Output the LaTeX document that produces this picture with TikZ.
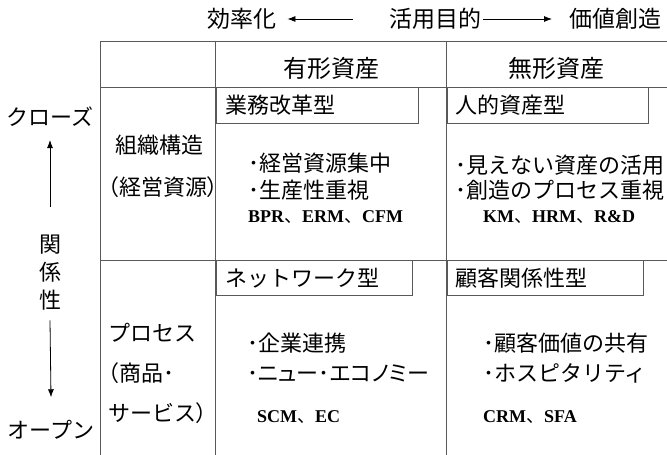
\documentclass[tikz,border=0pt]{standalone}
\usepackage{fontspec}
\setmainfont{Noto Sans CJK JP}
\newfontfamily\jpp{Noto Sans CJK JP}[RawFeature=+palt]
\newfontfamily\tnr{Liberation Serif}
\usetikzlibrary{arrows.meta}
\newcommand{\ab}[1]{{\tnr\bfseries #1}}
\newcommand{\lp}{{\jpp （}}
\newcommand{\rp}{{\jpp ）}}
\begin{document}
\begin{tikzpicture}[x=1pt,y=-1pt,
  jp/.style={inner sep=0pt, font=\fontsize{22}{26}\selectfont},
  top/.style={inner sep=0pt, font=\fontsize{23}{27}\selectfont},
  hd/.style={inner sep=0pt, font=\fontsize{24}{28}\selectfont},
  lat/.style={inner sep=0pt, font=\fontsize{18}{22}\selectfont},
  gridline/.style={draw=black!65, line width=0.9pt},
  subbox/.style={draw=black!65, line width=0.9pt, inner sep=0pt, anchor=north west},
  arr/.style={line width=0.8pt, -{Latex[length=8pt,width=6pt]}}]
\useasboundingbox (0,0) rectangle (667,455);
\clip (0,0) rectangle (667,455);
\fill[white] (0,0) rectangle (667,455);
% table grid
\draw[gridline] (100.7,41) -- (680,41);
\draw[gridline] (100.7,87.3) -- (680,87.3);
\draw[gridline] (100.7,260) -- (680,260);
\draw[gridline] (100.7,41) -- (100.7,470);
\draw[gridline] (215.7,41) -- (215.7,470);
\draw[gridline] (446.7,41) -- (446.7,470);
% sub boxes
\node[subbox, minimum width=202.6pt, minimum height=35.4pt] (b1) at (215.7,87.3) {};
\node[subbox, minimum width=201.6pt, minimum height=35.4pt] (b2) at (446.7,87.3) {};
\node[subbox, minimum width=196.6pt, minimum height=35pt] (b3) at (215.7,260) {};
\node[subbox, minimum width=196pt, minimum height=35pt] (b4) at (446.7,260) {};
\node[jp, anchor=west] (t1) at (225,105) {業務改革型};
\node[jp, anchor=west] (t2) at (455,105) {人的資産型};
\node[jp, anchor=west] (t3) at (225,278) {ネットワーク型};
\node[jp, anchor=west] (t4) at (455,278) {顧客関係性型};
% top
\node[top, anchor=west] (eff) at (207,19) {効率化};
\node[top, anchor=west] (purp) at (389,19) {活用目的};
\node[top, anchor=west] (val) at (569,19) {価値創造};
\draw[arr] ([xshift=-36pt]purp.west) -- ([xshift=11pt]eff.east);
\draw[arr] ([xshift=2pt]purp.east) -- ([xshift=-17pt]val.west);
% headers
\node[hd] (h1) at (331,68) {有形資産};
\node[hd] (h2) at (556,68) {無形資産};
% left labels
\node[jp] (close) at (50,117) {クローズ};
\node[jp] (k1) at (50,245) {関};
\node[jp] (k2) at (50,272) {係};
\node[jp] (k3) at (50,300) {性};
\node[jp] (open) at (51,430) {オープン};
\draw[arr] ([yshift=28pt]k1.north) -- ([yshift=-13pt]close.south);
\draw[arr] ([yshift=-10pt]k3.south) -- ([yshift=23pt]open.north);
% row labels
\node[jp] (org) at (159,145) {組織構造};
\node[jp, anchor=west] (orgp) at (108,187) {\lp 経営資源\rp};
\node[jp, anchor=west] (pr1) at (108,333) {プロセス};
\node[jp, anchor=west] (pr2) at (108,373) {\lp 商品･};
\node[jp, anchor=west] (pr3) at (108,413) {サービス\rp};
% cell contents
\node[jp, anchor=west] (c1) at (248,163) {･経営資源集中};
\node[jp, anchor=west] (c2) at (248,190) {･生産性重視};
\node[lat, anchor=west] (c3) at (248,217) {\ab{BPR}、\ab{ERM}、\ab{CFM}};
\node[jp, anchor=west] (d1) at (455,165) {･見えない資産の活用};
\node[jp, anchor=west] (d2) at (455,190) {･創造のプロセス重視};
\node[lat, anchor=west] (d3) at (483,217) {\ab{KM}、\ab{HRM}、\ab{R\&D}};
\node[jp, anchor=west] (e1) at (247,343) {･企業連携};
\node[jp, anchor=west] (e2) at (247,373) {\jpp ･ニュー･エコノミー};
\node[lat, anchor=west] (e3) at (257,417) {\ab{SCM}、\ab{EC}};
\node[jp, anchor=west] (f1) at (483,343) {･顧客価値の共有};
\node[jp, anchor=west] (f2) at (483,373) {･ホスピタリティ};
\node[lat, anchor=west] (f3) at (483,417) {\ab{CRM}、\ab{SFA}};
\end{tikzpicture}
\end{document}
